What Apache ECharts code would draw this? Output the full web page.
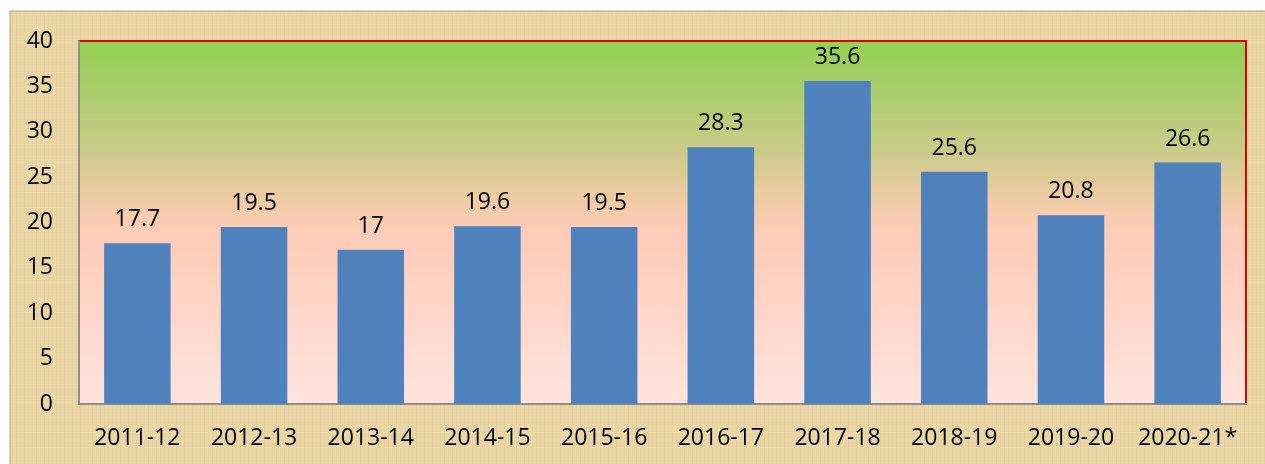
<!DOCTYPE html>
<html>
<head>
<meta charset="utf-8">
<script src="https://cdn.jsdelivr.net/npm/echarts@6/dist/echarts.min.js"></script>
<style>
html,body{margin:0;padding:0;background:#fff;}
#c{width:1265px;height:464px;}
</style>
</head>
<body>
<div id="c"></div>
<script>
const categories = ['2011-12','2012-13','2013-14','2014-15','2015-16','2016-17','2017-18','2018-19','2019-20','2020-21*'];
const values = [17.7, 19.5, 17, 19.6, 19.5, 28.3, 35.6, 25.6, 20.8, 26.6];
const yTicks = [0, 5, 10, 15, 20, 25, 30, 35, 40];

// parchment texture pattern (decorative, deterministic)
function makeParchment() {
  const cv = document.createElement('canvas');
  cv.width = 240; cv.height = 120;
  const g = cv.getContext('2d');
  g.fillStyle = '#E9D6A4';
  g.fillRect(0, 0, 240, 120);
  for (let y = 0; y < 120; y += 3) {
    const a = 0.05 + 0.05 * ((y * 7) % 5) / 4;
    g.fillStyle = 'rgba(255,245,215,' + a + ')';
    g.fillRect(0, y, 240, 1);
  }
  for (let x = 0; x < 240; x += 4) {
    const a = 0.03 + 0.05 * ((x * 13) % 7) / 6;
    g.fillStyle = 'rgba(170,140,80,' + a + ')';
    g.fillRect(x, 0, 1, 120);
  }
  return cv;
}

const chart = echarts.init(document.getElementById('c'), null, {renderer: 'canvas'});
const fontFam = '"Open Sans", "Noto Sans", sans-serif';
chart.setOption({
  animation: false,
  backgroundColor: '#ffffff',
  graphic: [{
    type: 'rect',
    z: -10,
    shape: {x: 10, y: 11, width: 1260, height: 460},
    style: {fill: {image: makeParchment(), repeat: 'repeat'}, stroke: '#A7A77A', lineWidth: 1}
  }],
  grid: {
    left: 79, right: 19, top: 41, bottom: 60,
    show: true,
    borderWidth: 2,
    borderColor: '#D80000',
    backgroundColor: {
      type: 'linear', x: 0, y: 0, x2: 0, y2: 1,
      colorStops: [
        {offset: 0, color: '#92D050'},
        {offset: 0.12, color: '#A6CE68'},
        {offset: 0.3, color: '#CACB88'},
        {offset: 0.42, color: '#EACBA0'},
        {offset: 0.52, color: '#FECCB7'},
        {offset: 0.62, color: '#FFCFBE'},
        {offset: 1, color: '#FFE4DC'}
      ]
    }
  },
  xAxis: {
    type: 'category',
    data: categories,
    axisLine: {show: true, lineStyle: {color: '#8C8C8C', width: 2}},
    axisTick: {show: false},
    axisLabel: {color: '#000', fontSize: 23, fontFamily: fontFam, margin: 23, interval: 0, hideOverlap: false}
  },
  yAxis: {
    type: 'value',
    min: 0, max: 40, interval: 5,
    splitLine: {show: false},
    axisLine: {show: true, lineStyle: {color: '#8C8C8C', width: 2}},
    axisTick: {show: false},
    axisLabel: {
      color: '#000', fontSize: 23, fontFamily: fontFam, margin: 26,
      formatter: v => yTicks.includes(v) ? String(v) : ''
    }
  },
  series: [{
    type: 'bar',
    data: values,
    barWidth: '57%',
    itemStyle: {color: '#4F81BD'},
    label: {
      show: true, position: 'top', distance: 12,
      color: '#000', fontSize: 23, fontFamily: fontFam
    }
  }]
});
</script>
</body>
</html>
